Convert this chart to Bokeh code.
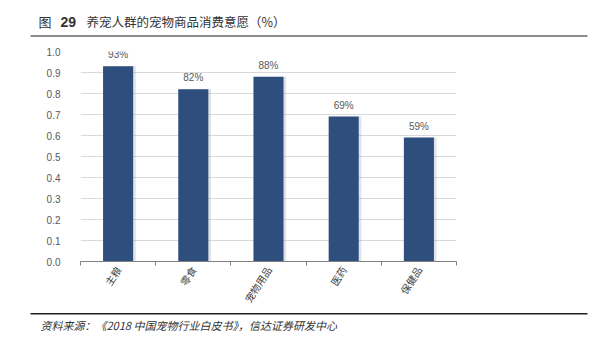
import math
from bokeh.plotting import figure
from bokeh.layouts import column
from bokeh.models import (Range1d, FixedTicker, Label, BoxAnnotation, ColumnDataSource,
                          CustomJSTickFormatter)
from bokeh.transform import dodge
from bokeh.embed import file_html
from bokeh.resources import INLINE

categories = ["主粮", "零食", "宠物用品", "医药", "保健品"]
values = [0.93, 0.82, 0.88, 0.69, 0.59]
value_labels = ["93%", "82%", "88%", "69%", "59%"]
y_ticks = [0.0, 0.1, 0.2, 0.3, 0.4, 0.5, 0.6, 0.7, 0.8, 0.9, 1.0]
title_prefix = "图"
title_number = "29"
title_text = "养宠人群的宠物商品消费意愿（%）"
source_text = "资料来源：《2018 中国宠物行业白皮书》，信达证券研发中心"

FONT = "Noto Sans CJK SC"
W = 616
TOP_H, MAIN_H, BOT_H = 46, 266, 41


def strip_fig(h):
    f = figure(width=W, height=h, output_backend="svg", toolbar_location=None,
               x_range=Range1d(0, W), y_range=Range1d(h, 0),
               min_border=0, min_border_left=0, min_border_right=0,
               min_border_top=0, min_border_bottom=0, frame_align=False)
    f.axis.visible = False
    f.grid.visible = False
    f.outline_line_color = None
    f.background_fill_color = "white"
    f.border_fill_color = "white"
    return f


# ---- title strip
top = strip_fig(TOP_H)
top.add_layout(Label(x=38, y=21, text=title_prefix, text_font=FONT, text_font_size="13px",
                     text_color="#333333", text_baseline="middle"))
top.add_layout(Label(x=60, y=21, text=title_number, text_font="Liberation Sans",
                     text_font_size="14px", text_font_style="bold", text_color="#333333",
                     text_baseline="middle"))
top.add_layout(Label(x=86, y=21, text=title_text, text_font=FONT, text_font_size="12.5px",
                     text_color="#333333", text_baseline="middle"))
top.add_layout(BoxAnnotation(left=30, right=587, top=34.5, bottom=36.5, fill_color="#8c8c8c",
                             fill_alpha=1, line_color=None))

# ---- main chart
xs = [i + 0.5 for i in range(len(categories))]
src = ColumnDataSource(dict(x=xs, top=values, lab=value_labels))

p = figure(width=W, height=MAIN_H, output_backend="svg", toolbar_location=None,
           x_range=Range1d(0, len(categories)), y_range=Range1d(0, 1.0),
           min_border_left=80, min_border_right=160, min_border_top=5, min_border_bottom=50,
           frame_align=False)
p.outline_line_color = None
p.background_fill_color = "white"
p.border_fill_color = "white"

p.vbar(x=dodge("x", 0.035, range=p.x_range), top="top", width=0.4, source=src,
       fill_color="#9aa3b0", line_color=None, fill_alpha=0.3)
p.vbar(x="x", top="top", width=0.4, source=src, fill_color="#2E4E7E", line_color=None)
p.text(x="x", y="top", text="lab", source=src, text_align="center", text_baseline="bottom",
       y_offset=-6, text_font_size="10px", text_color="#595959")

p.yaxis.ticker = FixedTicker(ticks=y_ticks)
p.yaxis.formatter = CustomJSTickFormatter(code="return tick.toFixed(1);")
p.yaxis.axis_line_color = None
p.yaxis.major_tick_line_color = None
p.yaxis.minor_tick_line_color = None
p.yaxis.major_label_text_font_size = "10px"
p.yaxis.major_label_text_color = "#595959"
p.yaxis.major_label_standoff = 14

p.xaxis.ticker = FixedTicker(ticks=xs, minor_ticks=list(range(len(categories) + 1)))
p.xaxis.major_label_overrides = {x: c for x, c in zip(xs, categories)}
p.xaxis.major_tick_line_color = None
p.xaxis.major_tick_out = 0
p.xaxis.major_tick_in = 0
p.xaxis.minor_tick_line_color = "#808080"
p.xaxis.minor_tick_out = 4
p.xaxis.minor_tick_in = 0
p.xaxis.axis_line_color = "#808080"
p.xaxis.major_label_orientation = 1.0
p.xaxis.major_label_text_font_size = "10px"
p.xaxis.major_label_text_color = "#404040"
p.xaxis.major_label_text_font = FONT
p.xaxis.major_label_standoff = 2

p.xgrid.grid_line_color = None
p.ygrid.grid_line_color = "#d9d9d9"
p.ygrid.ticker = FixedTicker(ticks=y_ticks)

# ---- footer strip
bot = strip_fig(BOT_H)
bot.add_layout(BoxAnnotation(left=30, right=587, top=0.5, bottom=2, fill_color="#222222",
                             fill_alpha=1, line_color=None))
bot.add_layout(Label(x=40, y=12, text=source_text, text_font=FONT, text_font_size="11px",
                     text_font_style="italic", text_color="#333333", text_baseline="middle"))

layout = column(top, p, bot, spacing=0)
open("out.html", "w").write(file_html(layout, INLINE))
